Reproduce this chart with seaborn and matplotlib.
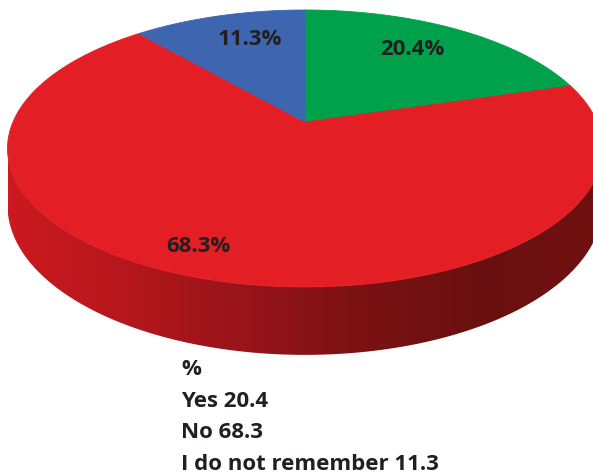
import numpy as np
import matplotlib
matplotlib.use("Agg")
import matplotlib.pyplot as plt
import seaborn as sns
from matplotlib.patches import Polygon
from matplotlib.colors import LinearSegmentedColormap

# Survey answers (percent of respondents)
categories = ["Yes", "No", "I do not remember"]
percentages = [20.4, 68.3, 11.3]
slice_colors = ["#00A14B", "#E31E24", "#3E66B0"]
legend_title = "%"

sns.set_theme(style="white")
plt.rcParams["font.family"] = ["Open Sans", "DejaVu Sans"]

W, H = 593, 473
fig = plt.figure(figsize=(W / 100, H / 100), dpi=100)
ax = fig.add_axes([0, 0, 1, 1])
ax.set_xlim(0, W)
ax.set_ylim(H, 0)
ax.axis("off")

# Pie geometry in pixel space: centre, radii, perspective strength, thickness
CX, CY, RX, RY, PERSP, DEPTH = 305, 122, 292, 133.4, 0.191, 55


def project(theta, r=1.0, z=0.0):
    """Project a point of the disc (angle clockwise from 12 o'clock) to the canvas."""
    X = r * np.sin(theta)
    Y = r * np.cos(theta)
    f = 1.0 / (1.0 + PERSP * Y)
    return CX + RX * X * f, CY - RY * Y * f + z * DEPTH * f


# --- side wall (front part of the cylinder) ---------------------------------
t = np.linspace(0, 2 * np.pi, 2000)
xs, _ = project(t)
t_right = t[np.argmax(xs)]
t_left = t[np.argmin(xs)]
front = np.linspace(t_right, t_left, 400)
tx, ty = project(front)
bx, by = project(front[::-1], z=1.0)
side = Polygon(np.column_stack([np.r_[tx, bx], np.r_[ty, by]]),
               closed=True, facecolor="none", edgecolor="none")
ax.add_patch(side)
side_cmap = LinearSegmentedColormap.from_list(
    "side", ["#CB1A20", "#B5171C", "#96141A", "#7A1214", "#6A0F0F", "#701110"])
grad = np.linspace(0, 1, 256)[None, :]
im = ax.imshow(grad, cmap=side_cmap, aspect="auto",
               extent=[tx.min(), tx.max(), by.max(), ty.min()], zorder=1)
im.set_clip_path(side)

# --- top face wedges --------------------------------------------------------
fractions = np.array(percentages) / np.sum(percentages)
bounds = np.r_[0, np.cumsum(fractions)] * 2 * np.pi
for a0, a1, col in zip(bounds[:-1], bounds[1:], slice_colors):
    arc = np.linspace(a0, a1, 300)
    px, py = project(arc)
    poly = Polygon(np.column_stack([np.r_[CX, px], np.r_[CY, py]]),
                   closed=True, facecolor=col, edgecolor=col, lw=0.6, zorder=2)
    ax.add_patch(poly)

# --- percentage labels on the slices ---------------------------------------
label_radius = [0.73, 0.85, 0.73]
label_nudge_deg = [-2.5, 5.0, 3.3]
for a0, a1, val, r, nd in zip(bounds[:-1], bounds[1:], percentages,
                               label_radius, label_nudge_deg):
    mid = (a0 + a1) / 2 + np.deg2rad(nd)
    lx, ly = project(mid, r=r)
    ax.text(lx, ly, f"{val:.1f}%", ha="center", va="center",
            fontsize=16, fontweight="bold", color="#231F20", zorder=3)

# --- legend text block ------------------------------------------------------
lines = [legend_title] + [f"{c} {v:.1f}" for c, v in zip(categories, percentages)]
for i, s in enumerate(lines):
    ax.text(181, 375 + i * 31.5, s, ha="left", va="baseline",
            fontsize=16, fontweight="bold", color="#231F20")

fig.savefig("out.png", dpi=100)
